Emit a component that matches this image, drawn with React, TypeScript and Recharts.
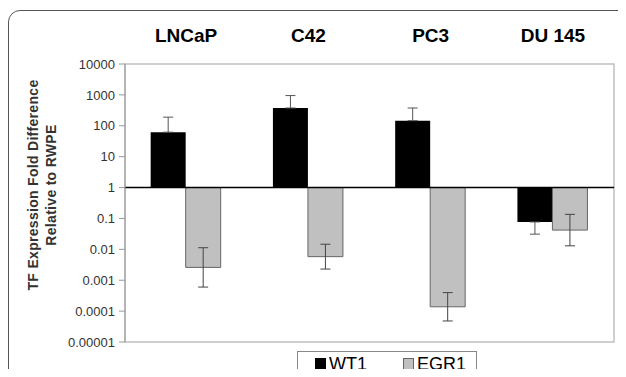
import React from "react";
import {
  Bar,
  ComposedChart,
  ErrorBar,
  ReferenceArea,
  ReferenceLine,
  XAxis,
  YAxis,
} from "recharts";

const categories = ["LNCaP", "C42", "PC3", "DU 145"];
// fold difference relative to RWPE (bar ends) and the error bar tips
const wt1 = [62, 376, 146, 0.077];
const wt1ErrTip = [190, 950, 376, 0.031];
const egr1 = [0.0026, 0.0058, 0.000138, 0.042];
const egr1ErrTip = [0.0006, 0.0023, 0.000048, 0.013];
const yTickLabels = [
  "0.00001",
  "0.0001",
  "0.001",
  "0.01",
  "0.1",
  "1",
  "10",
  "100",
  "1000",
  "10000",
];

const yTicks = yTickLabels.map((s) => Math.round(Math.log10(Number(s))));

// plotted in log10 space so bars grow from 1
const data = categories.map((name, i) => {
  const w = Math.log10(wt1[i]);
  const wErr = Math.abs(Math.log10(wt1ErrTip[i]) - w);
  const e = Math.log10(egr1[i]);
  return {
    name,
    wt1: w,
    // black bars hide the inner half, so only the outer arm is drawn
    wt1Err: w >= 0 ? [0, wErr] : [wErr, 0],
    egr1: e,
    egr1Err: Math.abs(Math.log10(egr1ErrTip[i]) - e),
  };
});

const FONT = "'Liberation Sans', Arial, sans-serif";

function CategoryTick(props: any) {
  const { x, y, payload } = props;
  return (
    <text
      x={x}
      y={y}
      dy={-14}
      textAnchor="middle"
      fontFamily={FONT}
      fontWeight="bold"
      fontSize={19}
      fill="#000"
    >
      {payload.value}
    </text>
  );
}

function YLabel(props: any) {
  const vb = props.viewBox;
  const cy = vb.y + vb.height / 2 - 18;
  const common = {
    fontFamily: FONT,
    fontWeight: "bold" as const,
    fontSize: 14,
    letterSpacing: 0.3,
    fill: "#333",
    textAnchor: "middle" as const,
  };
  return (
    <g>
      <text {...common} x={vb.x + 38} y={cy} transform={`rotate(-90 ${vb.x + 38} ${cy})`}>
        TF Expression Fold Difference
      </text>
      <text {...common} x={vb.x + 56} y={cy} transform={`rotate(-90 ${vb.x + 56} ${cy})`}>
        Relative to RWPE
      </text>
    </g>
  );
}

function LegendBox() {
  const item = (label: string, fill: string, stroke: string, gap: number) => (
    <span style={{ display: "inline-flex", alignItems: "center", marginRight: gap }}>
      <span
        style={{
          display: "inline-block",
          width: 9,
          height: 10,
          background: fill,
          border: `1px solid ${stroke}`,
          marginRight: 3,
        }}
      />
      {label}
    </span>
  );
  return (
    <div
      style={{
        position: "absolute",
        left: 297,
        top: 351,
        width: 180,
        height: 40,
        border: "1px solid #888",
        boxSizing: "border-box",
        paddingTop: 1,
        paddingLeft: 17,
        fontFamily: FONT,
        fontSize: 18,
        lineHeight: "22px",
        color: "#000",
        whiteSpace: "nowrap",
        background: "#fff",
      }}
    >
      {item("WT1", "#000", "#000", 36)}
      {item("EGR1", "#c0c0c0", "#666", 0)}
    </div>
  );
}

export default function App() {
  return (
    <div
      style={{
        position: "relative",
        margin: -8,
        width: 626,
        height: 377,
        overflow: "hidden",
        background: "#fff",
      }}
    >
      <div
        style={{
          position: "absolute",
          left: 8,
          top: 10,
          width: 640,
          height: 420,
          border: "1.5px solid #555",
          borderRadius: 12,
        }}
      />
      <ComposedChart
        width={626}
        height={377}
        data={data}
        margin={{ top: 14, right: 12, bottom: 35, left: 0 }}
        barCategoryGap="21%"
        barGap={0}
      >
        <XAxis
          dataKey="name"
          orientation="top"
          height={50}
          axisLine={false}
          tickLine={false}
          tick={<CategoryTick />}
          interval={0}
        />
        <YAxis
          type="number"
          domain={[-5, 4]}
          ticks={yTicks}
          interval={0}
          width={125}
          tickFormatter={(v: number) => yTickLabels[yTicks.indexOf(v)]}
          tick={{ fontFamily: FONT, fontSize: 13, fill: "#333" }}
          tickSize={6}
          tickMargin={4}
          axisLine={{ stroke: "#999" }}
          tickLine={{ stroke: "#999" }}
          allowDataOverflow
          label={{ content: <YLabel /> }}
        />
        <ReferenceArea y1={-5} y2={4} fill="none" stroke="#c0c0c0" strokeWidth={1.5} />
        <Bar dataKey="wt1" name="WT1" fill="#000" isAnimationActive={false}>
          <ErrorBar dataKey="wt1Err" width={5} stroke="#555" strokeWidth={1} />
        </Bar>
        <Bar
          dataKey="egr1"
          name="EGR1"
          fill="#c0c0c0"
          stroke="#666"
          strokeWidth={1}
          isAnimationActive={false}
        >
          <ErrorBar dataKey="egr1Err" width={5} stroke="#444" strokeWidth={1} />
        </Bar>
        <ReferenceLine y={0} stroke="#000" strokeWidth={1.5} />
      </ComposedChart>
      <LegendBox />
    </div>
  );
}
